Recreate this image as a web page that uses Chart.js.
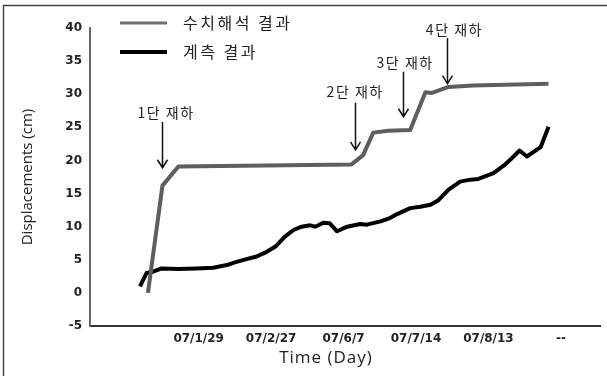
<!DOCTYPE html>
<html>
<head>
<meta charset="utf-8">
<script src="https://cdn.jsdelivr.net/npm/chart.js@4.4.1/dist/chart.umd.min.js"></script>
<style>
  html, body { margin: 0; padding: 0; background: #fff; }
  #wrap { width: 607px; height: 376px; }
</style>
</head>
<body>
<div id="wrap"><canvas id="c" width="607" height="376"></canvas></div>
<script>
// Horizontal axis: loading stages laid out on a step scale, labelled at slot centres
const tickPositions = [1.5, 2.5, 3.5, 4.5, 5.5, 6.5];
const tickLabels = ['07/1/29', '07/2/27', '07/6/7', '07/7/14', '07/8/13', '--'];

// 수치해석 결과 (numerical analysis)
const femX = [0.80, 1.00, 1.22, 3.61, 3.77, 3.91, 4.12, 4.42, 4.63, 4.72, 4.95, 5.29, 6.33];
const femY = [0.0, 16.2, 19.1, 19.4, 20.8, 24.2, 24.5, 24.6, 30.3, 30.2, 31.1, 31.3, 31.6];

// 계측 결과 (field measurement)
const measX = [0.69, 0.78, 0.87, 0.99, 1.22, 1.47, 1.70, 1.89, 2.00, 2.16, 2.30, 2.44, 2.56, 2.69,
               2.81, 2.92, 3.04, 3.11, 3.22, 3.31, 3.41, 3.55, 3.73, 3.82, 4.01, 4.14, 4.24, 4.42,
               4.56, 4.70, 4.81, 4.95, 5.11, 5.25, 5.36, 5.57, 5.71, 5.82, 5.93, 6.03, 6.22, 6.33];
const measY = [1.0, 3.0, 3.2, 3.7, 3.6, 3.7, 3.8, 4.2, 4.6, 5.1, 5.5, 6.2, 7.0, 8.5,
               9.5, 10.0, 10.2, 10.0, 10.6, 10.5, 9.3, 10.0, 10.4, 10.3, 10.8, 11.3, 11.9, 12.8,
               13.0, 13.3, 14.0, 15.6, 16.8, 17.1, 17.2, 18.1, 19.2, 20.3, 21.5, 20.6, 22.0, 25.1];

// Surcharge stage callouts, in data units
const loadLabels = ['1단 재하', '2단 재하', '3단 재하', '4단 재하'];
const loadTextX  = [1.05, 3.66, 4.35, 5.03];
const loadTextY  = [27.2, 30.4, 34.7, 39.7];
const arrowX     = [0.99, 3.66, 4.32, 4.93];
const arrowTop   = [25.8, 28.7, 33.4, 38.5];
const arrowTip   = [18.9, 21.6, 26.6, 31.6];

const legendItems = [
  { text: '수치해석 결과', color: '#707070', width: 3 },
  { text: '계측 결과', color: '#000000', width: 4 }
];

const toPoints = (xs, ys) => xs.map((x, i) => ({ x, y: ys[i] }));

const decor = {
  id: 'decor',
  beforeDraw(chart) {
    const ctx = chart.ctx;
    ctx.save();
    ctx.fillStyle = '#fff';
    ctx.fillRect(0, 0, chart.width, chart.height);
    ctx.restore();
  },
  afterDatasetsDraw(chart) {
    const ctx = chart.ctx;
    const xs = chart.scales.x, ys = chart.scales.y;
    ctx.save();
    // stage callouts with arrows
    ctx.font = '14px "Noto Sans CJK KR"';
    ctx.letterSpacing = '1.5px';
    ctx.fillStyle = '#222';
    ctx.textAlign = 'center';
    ctx.textBaseline = 'middle';
    ctx.strokeStyle = '#111';
    ctx.lineWidth = 1.5;
    loadLabels.forEach((t, i) => {
      ctx.fillText(t, xs.getPixelForValue(loadTextX[i]), ys.getPixelForValue(loadTextY[i]));
      const ax = Math.round(xs.getPixelForValue(arrowX[i])) + 0.5;
      const y0 = ys.getPixelForValue(arrowTop[i]);
      const y1 = ys.getPixelForValue(arrowTip[i]);
      ctx.beginPath();
      ctx.moveTo(ax, y0);
      ctx.lineTo(ax, y1);
      ctx.moveTo(ax - 5, y1 - 8);
      ctx.lineTo(ax, y1);
      ctx.lineTo(ax + 5, y1 - 8);
      ctx.stroke();
    });
    ctx.restore();
  },
  afterDraw(chart) {
    const ctx = chart.ctx;
    ctx.save();
    // legend
    ctx.font = '16px "Noto Sans CJK KR"';
    ctx.letterSpacing = '2.5px';
    ctx.textAlign = 'left';
    ctx.textBaseline = 'middle';
    legendItems.forEach((it, i) => {
      const y = 23 + i * 29;
      ctx.strokeStyle = it.color;
      ctx.lineWidth = it.width;
      ctx.beginPath();
      ctx.moveTo(120, y);
      ctx.lineTo(167, y);
      ctx.stroke();
      ctx.fillStyle = '#222';
      ctx.fillText(it.text, 183, y);
    });
    // horizontal axis title
    ctx.letterSpacing = '1px';
    ctx.font = '17px "Open Sans"';
    ctx.textAlign = 'center';
    ctx.fillStyle = '#222';
    ctx.fillText('Time (Day)', 326, 358);
    // frame
    ctx.letterSpacing = '0px';
    ctx.strokeStyle = '#444';
    ctx.lineWidth = 1.5;
    ctx.beginPath();
    ctx.moveTo(3.5, chart.height);
    ctx.lineTo(3.5, 5.5);
    ctx.lineTo(chart.width, 5.5);
    ctx.stroke();
    ctx.restore();
  }
};

new Chart(document.getElementById('c'), {
  type: 'scatter',
  data: {
    datasets: [
      {
        label: '수치해석 결과',
        data: toPoints(femX, femY),
        showLine: true,
        borderColor: '#5e5e5e',
        borderWidth: 4,
        pointRadius: 0,
        borderJoinStyle: 'round',
        tension: 0
      },
      {
        label: '계측 결과',
        data: toPoints(measX, measY),
        showLine: true,
        borderColor: '#000',
        borderWidth: 4,
        pointRadius: 0,
        borderJoinStyle: 'round',
        tension: 0
      }
    ]
  },
  options: {
    responsive: false,
    animation: false,
    devicePixelRatio: 1,
    layout: { padding: { left: 3, right: 7, top: 28, bottom: 0 } },
    plugins: { legend: { display: false }, tooltip: { enabled: false } },
    scales: {
      x: {
        type: 'linear',
        min: 0,
        max: 7.04,
        afterFit: s => { s.height = 50; },
        afterBuildTicks: s => { s.ticks = tickPositions.map(v => ({ value: v })); },
        grid: { display: false, drawTicks: false },
        border: { display: true, color: '#333', width: 2 },
        ticks: {
          autoSkip: false,
          maxRotation: 0,
          minRotation: 0,
          padding: 6,
          color: '#222',
          font: { family: 'DejaVu Sans', size: 12, weight: 'bold' },
          callback: (v, i) => tickLabels[i]
        }
      },
      y: {
        min: -5,
        max: 40,
        afterFit: s => { s.width = 87; },
        grid: { display: false, drawTicks: false },
        border: { display: true, color: '#666', width: 2 },
        ticks: {
          stepSize: 5,
          padding: 8,
          color: '#222',
          font: { family: 'DejaVu Sans', size: 12, weight: 'bold' }
        },
        title: {
          display: true,
          text: 'Displacements (cm)',
          color: '#222',
          font: { family: 'Open Sans', size: 15 },
          padding: { top: 16 }
        }
      }
    }
  },
  plugins: [decor]
});
</script>
</body>
</html>
